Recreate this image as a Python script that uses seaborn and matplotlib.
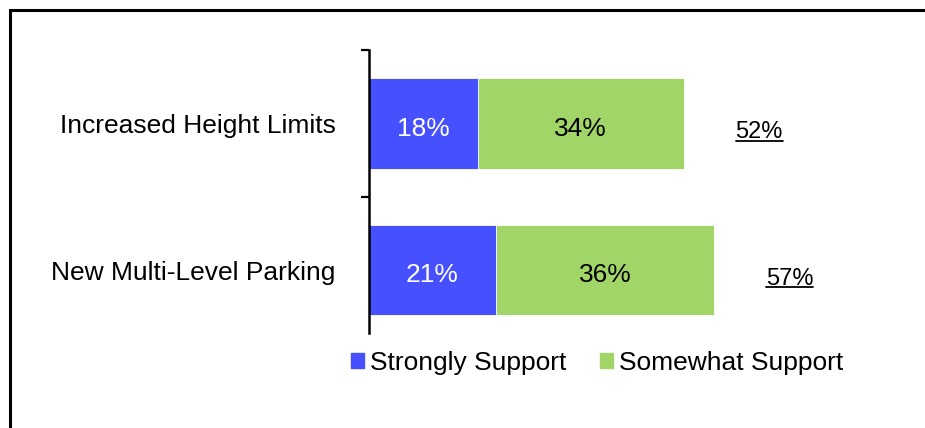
import matplotlib
matplotlib.use("Agg")
import matplotlib.pyplot as plt
from matplotlib.patches import Rectangle
from matplotlib.lines import Line2D
import seaborn as sns
import pandas as pd

categories = ["Increased Height Limits", "New Multi-Level Parking"]
strongly = [18, 21]
somewhat = [34, 36]
series_names = ["Strongly Support", "Somewhat Support"]

BLUE = "#4650FF"
GREEN = "#A2D567"

sns.set_theme(style="white")
plt.rcParams["font.family"] = ["Liberation Sans", "DejaVu Sans"]
plt.rcParams["text.color"] = "black"

totals = [a + b for a, b in zip(strongly, somewhat)]
df = pd.DataFrame({"category": categories, "strongly": strongly,
                   "somewhat": somewhat, "total": totals})

fig = plt.figure(figsize=(9.25, 4.28), dpi=100)
ax = fig.add_axes([369 / 925, 1 - 333 / 428, 556 / 925, 283 / 428])

# stacked bars: full total in green, strongly-support segment in blue on top
sns.barplot(data=df, x="total", y="category", orient="h", color=GREEN,
            width=0.62, saturation=1, ax=ax, edgecolor="white", linewidth=0.6)
sns.barplot(data=df, x="strongly", y="category", orient="h", color=BLUE,
            width=0.62, saturation=1, ax=ax, edgecolor="white", linewidth=0.6)

ax.set_xlim(0, 556 / 6.05)
ax.set_ylim(1.43, -0.502)
ax.set_xlabel("")
ax.set_ylabel("")
ax.set_xticks([])
ax.set_yticks([0, 1])
ax.set_yticklabels(categories, fontsize=19, color="black")
ax.set_yticks([-0.5, 0.5], minor=True)
ax.tick_params(axis="y", which="major", length=0, pad=24)
ax.tick_params(axis="y", which="minor", left=True, length=6, width=1.6,
               color="black", direction="out")
for side in ["top", "right", "bottom"]:
    ax.spines[side].set_visible(False)
ax.spines["left"].set_color("black")
ax.spines["left"].set_linewidth(1.8)

# segment labels
for i, (s, w) in enumerate(zip(strongly, somewhat)):
    ax.text(s / 2, i + 0.035, f"{s}%", ha="center", va="center",
            fontsize=19, color="white")
    ax.text(s + w / 2, i + 0.035, f"{w}%", ha="center", va="center",
            fontsize=19, color="black")

# underlined totals to the right of each bar
total_texts = []
for i, t in enumerate(totals):
    txt = ax.text(t + 12.5, i + 0.06, f"{t}%", ha="center", va="center",
                  fontsize=17, color="black")
    total_texts.append(txt)

fig.canvas.draw()
renderer = fig.canvas.get_renderer()
inv = fig.transFigure.inverted()
for txt in total_texts:
    bb = txt.get_window_extent(renderer)
    (x0, y0), (x1, y1) = inv.transform([(bb.x0, bb.y0), (bb.x1, bb.y1)])
    yl = y0 + (y1 - y0) * 0.12
    fig.add_artist(Line2D([x0, x1], [yl, yl], transform=fig.transFigure,
                          color="black", linewidth=1.3))

# legend
handles = [Rectangle((0, 0), 1, 1, color=BLUE), Rectangle((0, 0), 1, 1, color=GREEN)]
fig.legend(handles, series_names, loc="center", ncol=2,
           bbox_to_anchor=(597 / 925, 1 - 363 / 428), frameon=False,
           fontsize=19, handlelength=0.5, handleheight=0.5,
           handletextpad=0.2, columnspacing=1.3, labelcolor="black")

# outer frame
fig.add_artist(Rectangle((10 / 925, -0.2), 2, 1.2 - 10 / 428,
                         transform=fig.transFigure, fill=False,
                         edgecolor="black", linewidth=2.2, clip_on=False))

fig.savefig("out.png", dpi=100, facecolor="white")
